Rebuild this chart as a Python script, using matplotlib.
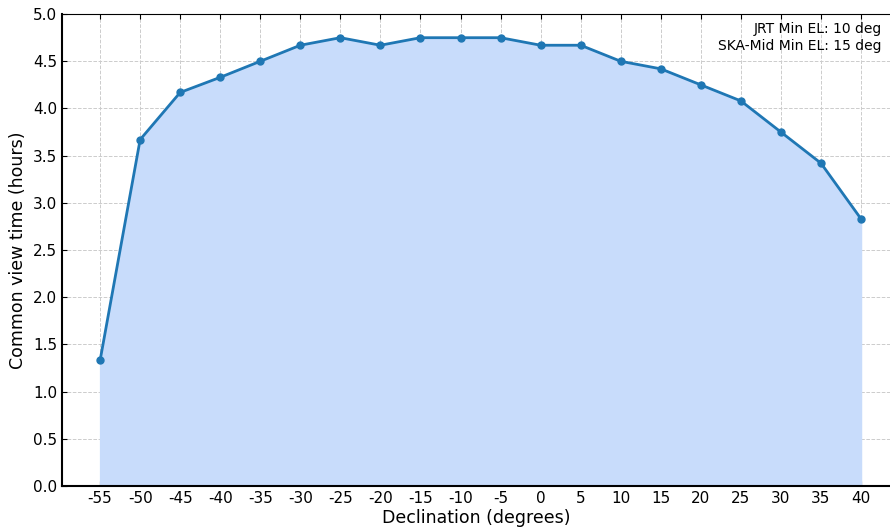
import matplotlib
matplotlib.use('Agg')
import matplotlib.pyplot as plt
import numpy as np

declinations = [-55, -50, -45, -40, -35, -30, -25, -20, -15, -10,
                -5, 0, 5, 10, 15, 20, 25, 30, 35, 40]
view_hours = [1.33, 3.67, 4.17, 4.33, 4.50, 4.67, 4.75, 4.67, 4.75, 4.75,
              4.75, 4.67, 4.67, 4.50, 4.42, 4.25, 4.08, 3.75, 3.42, 2.83]
note_lines = ["JRT Min EL: 10 deg", "SKA-Mid Min EL: 15 deg"]

plt.rcParams['axes.unicode_minus'] = False

fig = plt.figure(figsize=(8.9, 5.32), dpi=100)
# axes runs slightly past the right edge of the figure, as in the original
ax = fig.add_axes([0.0697, 0.0865, 0.9315, 0.887])

x = np.array(declinations)
y = np.array(view_hours)

ax.fill_between(x, 0, y, color='#c8dcfb', zorder=1)
ax.plot(x, y, '-o', color='#1f77b4', lw=2, ms=5, zorder=3)

ax.set_xlim(-59.75, 43.75)
ax.set_ylim(0, 5.0)
ax.set_xticks(declinations)
ax.set_yticks(np.arange(0, 5.01, 0.5))
ax.grid(True, ls='--', color='#cccccc', lw=0.7, zorder=0)
ax.set_axisbelow(True)
ax.tick_params(direction='in', top=True, labelsize=11)
for side in ['left', 'bottom']:
    ax.spines[side].set_linewidth(1.5)
ax.spines['right'].set_visible(False)

ax.set_xlabel("Declination (degrees)", fontsize=12.5, labelpad=2)
ax.set_ylabel("Common view time (hours)", fontsize=12.5)

fig.text(882 / 890, 1 - 22 / 532, "\n".join(note_lines),
         ha='right', va='top', fontsize=10, linespacing=1.3)

fig.savefig('out.png', dpi=100)
